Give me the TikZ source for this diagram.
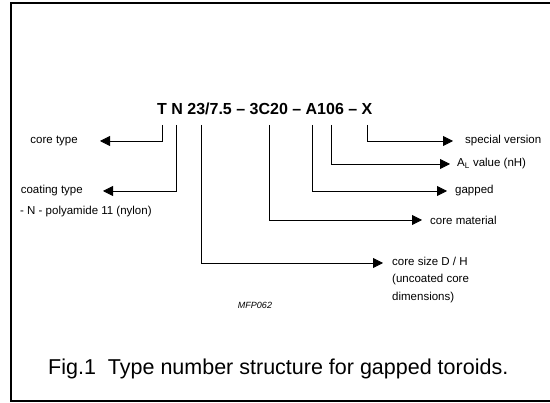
\documentclass[tikz,border=0pt]{standalone}
\usepackage{fontspec}
\setmainfont{Liberation Sans}
\usetikzlibrary{arrows.meta,positioning}
\tikzset{lbl/.style = {inner sep=0pt, font=\fontsize{11.5}{17.5}\selectfont, align=left}}
\tikzset{leader/.style = {line width=0.8pt, -{Triangle[length=10pt,width=10pt]}}}

\begin{document}
\begin{tikzpicture}[x=1pt,y=-1pt]
\useasboundingbox (0,0) rectangle (550,403);
\draw[line width=2pt] (550,3.5) -- (11,3.5) -- (11,401.5) -- (550,401.5);

\node[anchor=base west, inner sep=0pt, font=\fontsize{16}{19}\selectfont\bfseries] (code) at (157,115)
	{T N 23/7.5 \textendash{} 3C20 \textendash{} A106 \textendash{} X};

% upper ends under the characters
\foreach \n/\x in {T/162, N/176, size/201, mat/269, gap/312, AL/331, ver/367}
	\coordinate (\n) at (\x,125);

% arrow tips
\coordinate (tipT) at (100,141);
\coordinate (tipN) at (103,191);
\coordinate (tipsize) at (383,263);
\coordinate (tipmat) at (422,220);
\coordinate (tipgap) at (447,191);
\coordinate (tipAL) at (450,164);
\coordinate (tipver) at (453,141);

\foreach \n in {T, N, size, mat, gap, AL, ver}
	\draw[leader] (\n) |- (tip\n);

\node[lbl, left=22pt of tipT] (coretype) {core type};
\node[lbl, left=20pt of tipN] (coating) {coating type};
\node[lbl, anchor=west] (nylon) at (20,212) {- N - polyamide 11 (nylon)};
\node[lbl, right=9pt of tipsize, anchor=north west, yshift=6.5pt] (coresize) {core size D / H\\(uncoated core\\dimensions)};
\node[lbl, right=8pt of tipmat] (material) {core material};
\node[lbl, right=8pt of tipgap] (gapped) {gapped};
\node[lbl, right=7pt of tipAL] (alvalue) {A\textsubscript{L} value (nH)};
\node[lbl, right=12pt of tipver] (special) {special version};

\node[inner sep=0pt, font=\fontsize{9}{11}\selectfont\itshape] (mfp) at (255,305) {MFP062};
\node[anchor=base west, inner sep=0pt, font=\fontsize{21.5}{25}\selectfont] (caption) at (48,375)
	{Fig.1\ \ Type number structure for gapped toroids.};
\end{tikzpicture}
\end{document}
